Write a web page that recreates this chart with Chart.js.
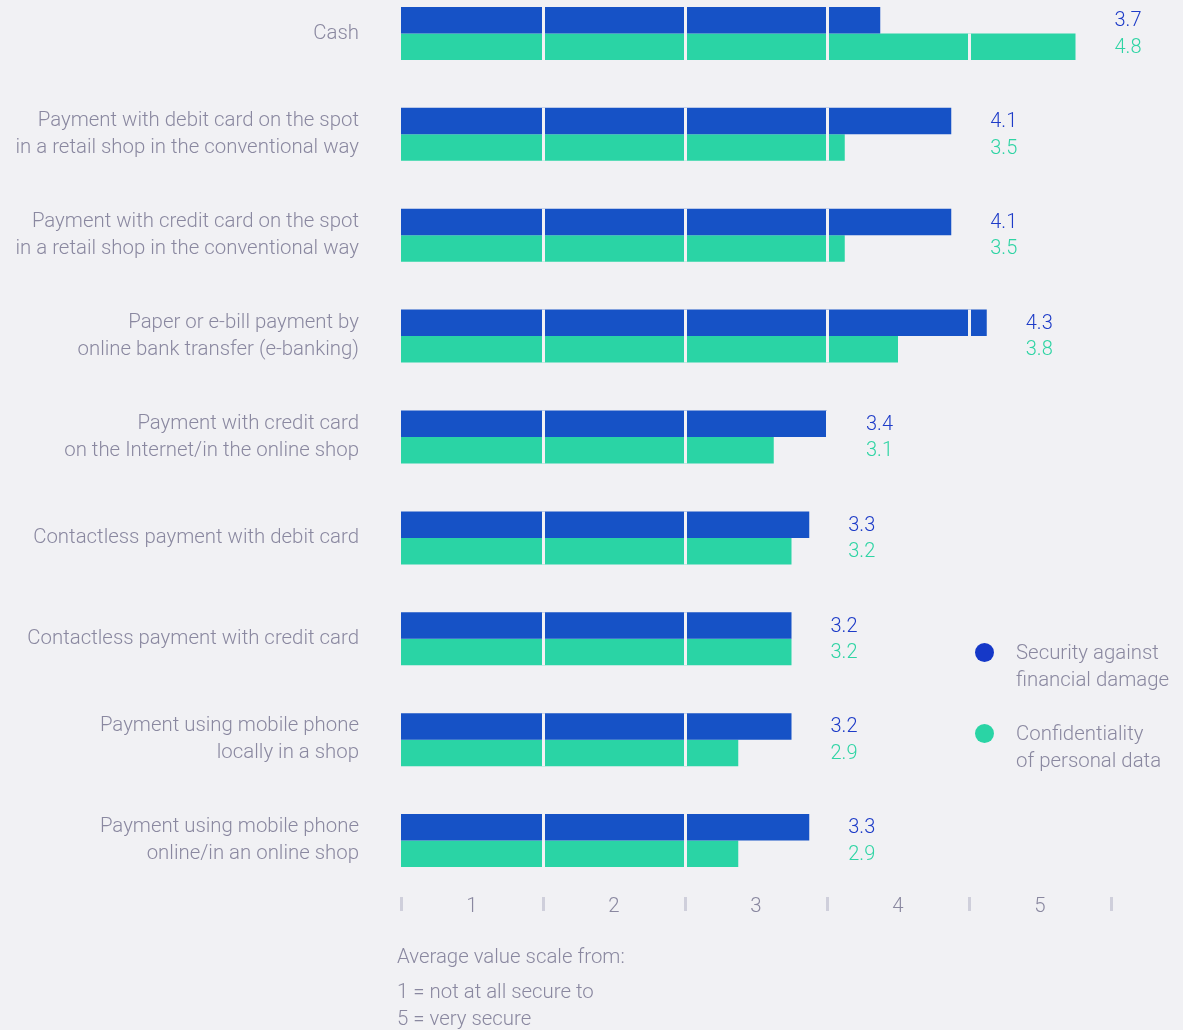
<!DOCTYPE html>
<html>
<head>
<meta charset="utf-8">
<script src="https://cdn.jsdelivr.net/npm/chart.js@4/dist/chart.umd.min.js"></script>
<style>
  html, body { margin: 0; padding: 0; background: #f1f1f4; width: 1183px; height: 1030px; overflow: hidden; }
  body { font-family: Roboto, "Noto Sans", sans-serif; font-weight: 300; color: #8a88a0; position: relative; }
  #wrap { position: absolute; left: 0; top: -17px; width: 1183px; height: 1047px; }
  .legend-item { position: absolute; left: 1016px; font-size: 20.4px; line-height: 27px; white-space: nowrap; }
  .legend-item .dot { position: absolute; left: -41px; top: 4px; width: 19px; height: 19px; border-radius: 50%; }
  .note { position: absolute; left: 397px; font-size: 20.4px; line-height: 27px; white-space: nowrap; }
</style>
</head>
<body>
<div id="wrap"><canvas id="chart"></canvas></div>
<div class="legend-item" style="top:639px"><span class="dot" style="background:#1538c8"></span>Security against<br>financial damage</div>
<div class="legend-item" style="top:720px"><span class="dot" style="background:#2ad4a5"></span>Confidentiality<br>of personal data</div>
<div class="note" style="top:943px">Average value scale from:</div>
<div class="note" style="top:978px">1 = not at all secure to<br>5 = very secure</div>
<script>
// Payment methods, top to bottom
const categories = [
  'Cash',
  ['Payment with debit card on the spot', 'in a retail shop in the conventional way'],
  ['Payment with credit card on the spot', 'in a retail shop in the conventional way'],
  ['Paper or e-bill payment by', 'online bank transfer (e-banking)'],
  ['Payment with credit card', 'on the Internet/in the online shop'],
  'Contactless payment with debit card',
  'Contactless payment with credit card',
  ['Payment using mobile phone', 'locally in a shop'],
  ['Payment using mobile phone', 'online/in an online shop']
];

const seriesNames = ['Security against financial damage', 'Confidentiality of personal data'];

// Average ratings on the 1–5 scale
const security        = [3.7, 4.1, 4.1, 4.3, 3.4, 3.3, 3.2, 3.2, 3.3];
const confidentiality = [4.8, 3.5, 3.5, 3.8, 3.1, 3.2, 3.2, 2.9, 2.9];

// Scale labels, each centred in one of five equal bands
const tickLabels = ['1', '2', '3', '4', '5'];

const SCALE_MIN = 1, SCALE_MAX = 5;
const BAR_COLORS = ['#1652c6', '#2ad4a5'];
const LABEL_COLORS = ['#1e3cc8', '#2fd4a4'];
const GRAY = '#8a88a0';
const BG = '#f1f1f4';
const FONT = 'Roboto, "Noto Sans", sans-serif';
const FONT_SIZE = 20.4;

// band edges (even ticks) and band centres (odd ticks)
function bandTicks() {
  const n = tickLabels.length;
  const step = (SCALE_MAX - SCALE_MIN) / n;
  const out = [];
  for (let i = 0; i <= 2 * n; i++) out.push({ value: SCALE_MIN + i * step / 2 });
  return out;
}

// Light separators across the bars at each band edge, then value labels
const barDecorations = {
  id: 'barDecorations',
  afterDatasetsDraw(chart) {
    const { ctx } = chart;
    const x = chart.scales.x;
    const metas = chart.data.datasets.map((_, i) => chart.getDatasetMeta(i));

    ctx.save();
    ctx.beginPath();
    metas.forEach(m => m.data.forEach(el => {
      const p = el.getProps(['x', 'y', 'base', 'height'], true);
      ctx.rect(p.base, p.y - p.height / 2, p.x - p.base, p.height);
    }));
    ctx.clip();
    ctx.strokeStyle = BG;
    ctx.lineWidth = 3;
    x.ticks.forEach((t, i) => {
      if (i % 2 !== 0 || i === 0 || i === x.ticks.length - 1) return;
      const px = Math.round(x.getPixelForValue(t.value)) + 0.5;
      ctx.beginPath();
      ctx.moveTo(px, chart.chartArea.top);
      ctx.lineTo(px, chart.chartArea.bottom);
      ctx.stroke();
    });
    ctx.restore();

    ctx.save();
    ctx.font = '300 20px ' + FONT;
    ctx.textAlign = 'left';
    ctx.textBaseline = 'middle';
    categories.forEach((_, idx) => {
      const ends = metas.map(m => m.data[idx].x);
      const lx = Math.max(...ends) + 39;
      metas.forEach((m, d) => {
        ctx.fillStyle = LABEL_COLORS[d];
        ctx.fillText(chart.data.datasets[d].data[idx].toFixed(1), lx, m.data[idx].y + 1);
      });
    });
    ctx.restore();
  }
};

new Chart(document.getElementById('chart'), {
  type: 'bar',
  data: {
    labels: categories,
    datasets: [
      { label: seriesNames[0], data: security, backgroundColor: BAR_COLORS[0], borderWidth: 0 },
      { label: seriesNames[1], data: confidentiality, backgroundColor: BAR_COLORS[1], borderWidth: 0 }
    ]
  },
  options: {
    indexAxis: 'y',
    responsive: true,
    maintainAspectRatio: false,
    animation: false,
    categoryPercentage: 0.5254,
    barPercentage: 1,
    layout: { padding: { left: 0, right: 72, top: 0, bottom: 99 } },
    plugins: { legend: { display: false }, tooltip: { enabled: false } },
    scales: {
      y: {
        type: 'category',
        offset: true,
        grid: { display: false, drawTicks: false },
        border: { display: false },
        afterFit(scale) {
          scale.width = 401;
          scale.paddingTop = 0;
          scale.paddingBottom = 0;
        },
        ticks: {
          color: GRAY,
          padding: 42,
          font: { family: FONT, size: FONT_SIZE, weight: 300, lineHeight: 27 / FONT_SIZE }
        }
      },
      x: {
        type: 'linear',
        min: SCALE_MIN,
        max: SCALE_MAX,
        afterBuildTicks(scale) { scale.ticks = bandTicks(); },
        afterFit(scale) {
          scale.height = 40;
          scale.paddingTop = 0;
          scale.paddingBottom = 0;
          scale.paddingLeft = 0;
          scale.paddingRight = 0;
        },
        border: { display: false },
        grid: {
          drawOnChartArea: false,
          drawTicks: true,
          tickLength: 20,
          tickWidth: 3,
          tickBorderDash: [0, 6, 14, 60],
          tickColor: c => (c.index % 2 === 0 ? '#cfcfdb' : 'rgba(0,0,0,0)')
        },
        ticks: {
          autoSkip: false,
          maxRotation: 0,
          padding: -15.9,
          color: GRAY,
          font: { family: FONT, size: FONT_SIZE, weight: 300 },
          callback: (v, i) => (i % 2 === 1 ? tickLabels[(i - 1) / 2] : '')
        }
      }
    }
  },
  plugins: [barDecorations]
});
</script>
</body>
</html>
